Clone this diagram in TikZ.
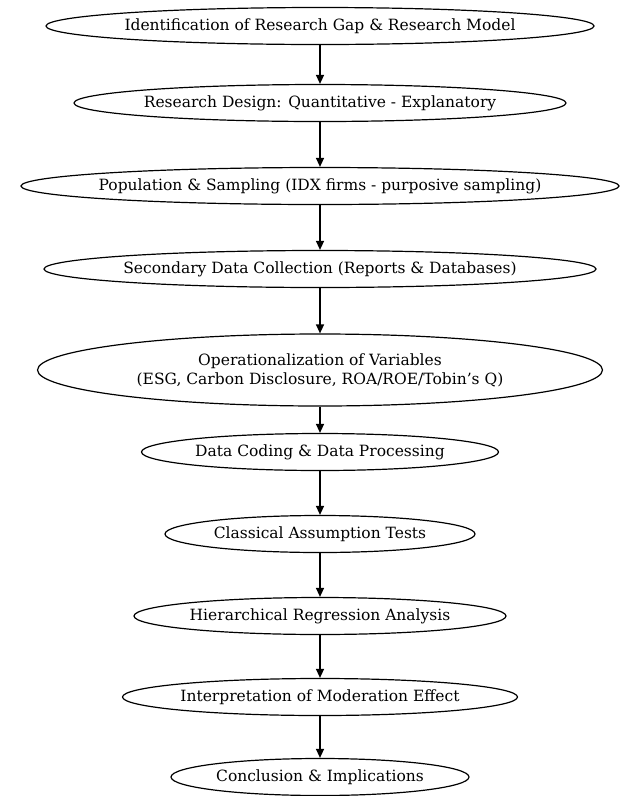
\documentclass[tikz,border=0pt]{standalone}
\usepackage{fontspec}
\setmainfont{DejaVu Serif}
\usetikzlibrary{arrows.meta,positioning,shapes.geometric}

\begin{document}
\begin{tikzpicture}[x=1pt, y=-1pt,
    stage/.style={draw, ellipse, line width=1.2pt, inner sep=0pt, minimum height=37pt},
    stagetext/.style={font=\fontsize{15.5}{19}\selectfont, align=center},
    flow/.style={-{Triangle[length=9pt, width=8pt]}, line width=1.3pt}]
    \useasboundingbox (0,0) rectangle (620,796);

    % Stages (top to bottom)
    \node[stage, minimum width=548pt, label={[stagetext]center:Identification of Research Gap \& Research Model}] (gap) at (320,26) {};
    \node[stage, minimum width=492pt, label={[stagetext]center:Research Design: Quantitative - Explanatory}] (design) at (320,103) {};
    \node[stage, minimum width=598pt, label={[stagetext]center:Population \& Sampling (IDX firms - purposive sampling)}] (sampling) at (320,186) {};
    \node[stage, minimum width=552pt, label={[stagetext]center:Secondary Data Collection (Reports \& Databases)}] (collection) at (320,269) {};
    \node[stage, minimum width=565pt, minimum height=72pt, label={[stagetext]center:{Operationalization of Variables\\(ESG, Carbon Disclosure, ROA/ROE/Tobin’s Q)}}] (operational) at (320,370) {};
    \node[stage, minimum width=357pt, label={[stagetext]center:Data Coding \& Data Processing}] (coding) at (320,452) {};
    \node[stage, minimum width=310pt, label={[stagetext]center:Classical Assumption Tests}] (assumption) at (320,534) {};
    \node[stage, minimum width=372pt, label={[stagetext]center:Hierarchical Regression Analysis}] (regression) at (320,616) {};
    \node[stage, minimum width=395pt, label={[stagetext]center:Interpretation of Moderation Effect}] (moderation) at (320,697) {};
    \node[stage, minimum width=298pt, label={[stagetext]center:Conclusion \& Implications}] (conclusion) at (320,777) {};

    % Arrows
    \draw[flow] (gap) -- (design);
    \draw[flow] (design) -- (sampling);
    \draw[flow] (sampling) -- (collection);
    \draw[flow] (collection) -- (operational);
    \draw[flow] (operational) -- (coding);
    \draw[flow] (coding) -- (assumption);
    \draw[flow] (assumption) -- (regression);
    \draw[flow] (regression) -- (moderation);
    \draw[flow] (moderation) -- (conclusion);
\end{tikzpicture}
\end{document}
